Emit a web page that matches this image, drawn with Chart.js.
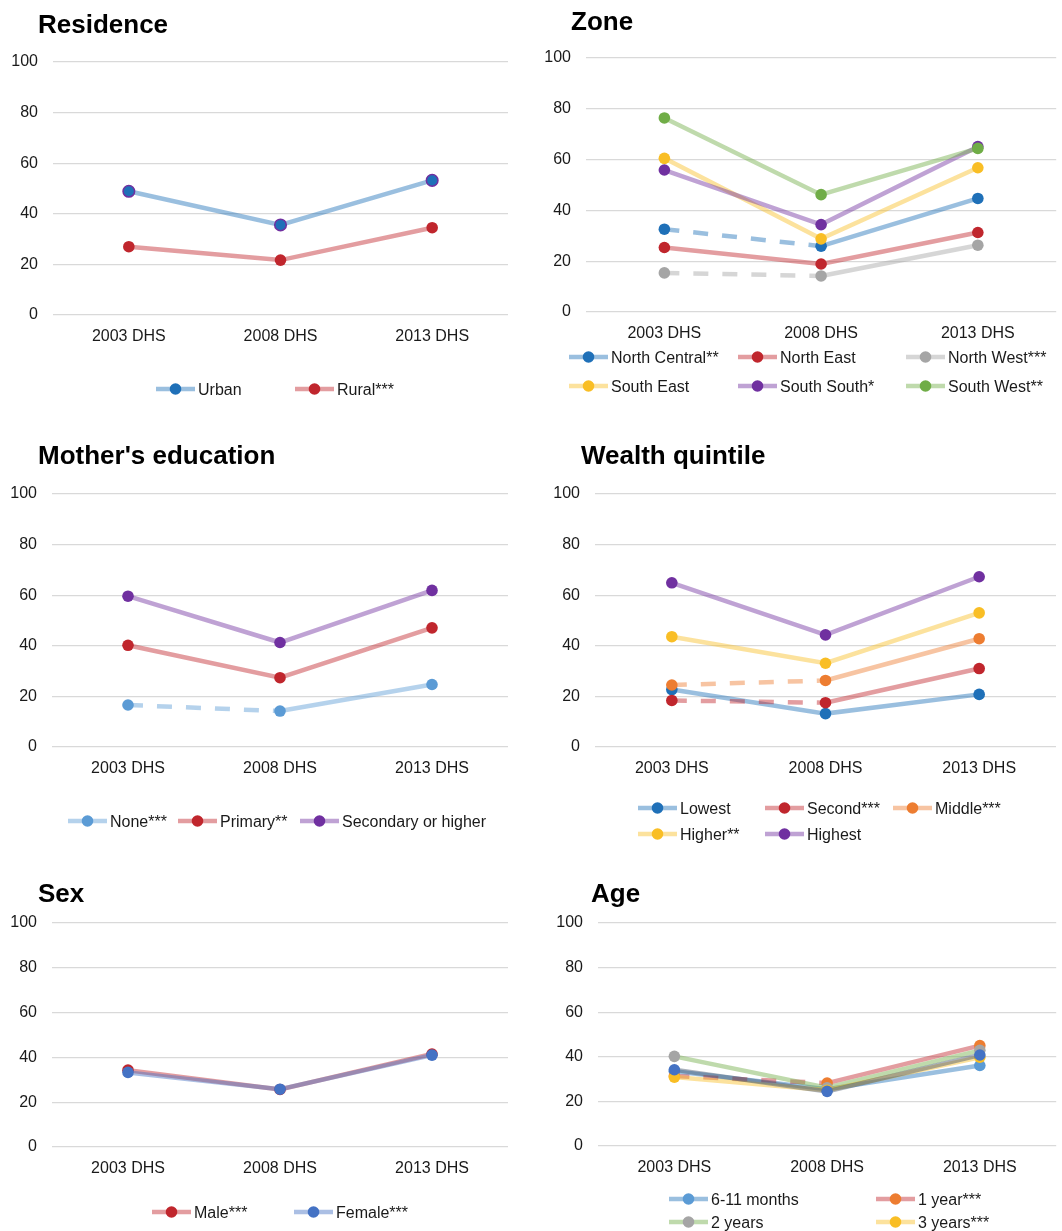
<!DOCTYPE html>
<html>
<head>
<meta charset="utf-8">
<script src="https://cdn.jsdelivr.net/npm/chart.js@4.4.1/dist/chart.umd.min.js"></script>
<style>
  html, body { margin: 0; padding: 0; background: #fff; }
  body { position: relative; width: 1062px; height: 1231px; overflow: hidden; }
  canvas { position: absolute; display: block; }
</style>
</head>
<body>
<canvas id="residence" width="531" height="430" style="left:0;top:0"></canvas>
<canvas id="zone" width="531" height="430" style="left:531px;top:0"></canvas>
<canvas id="education" width="531" height="440" style="left:0;top:430px"></canvas>
<canvas id="wealth" width="531" height="440" style="left:531px;top:430px"></canvas>
<canvas id="sex" width="531" height="361" style="left:0;top:870px"></canvas>
<canvas id="age" width="531" height="361" style="left:531px;top:870px"></canvas>
<script>
// ---- Survey rounds (x axis) and y-axis range ----
const categories = ['2003 DHS', '2008 DHS', '2013 DHS'];
const yMin = 0;
const yMax = 100;
const yStep = 20;

// ---- Residence ----
const residenceLabels = ['Urban', 'Rural***'];
const residenceUrban = [48.9, 35.6, 53.2];
const residenceRural = [27.0, 21.7, 34.5];

// ---- Zone ----
const zoneLabels = ['North Central**', 'North East', 'North West***', 'South East', 'South South*', 'South West**'];
const zoneNorthCentral = [32.6, 25.9, 44.7];
const zoneNorthEast = [25.4, 18.9, 31.3];
const zoneNorthWest = [15.4, 14.2, 26.3];
const zoneSouthEast = [60.5, 28.8, 56.8];
const zoneSouthSouth = [55.9, 34.4, 65.1];
const zoneSouthWest = [76.4, 46.2, 64.4];

// ---- Mother's education ----
const educationLabels = ['None***', 'Primary**', 'Secondary or higher'];
const educationNone = [16.6, 14.2, 24.7];
const educationPrimary = [40.2, 27.4, 47.1];
const educationSecondary = [59.6, 41.3, 61.9];

// ---- Wealth quintile ----
const wealthLabels = ['Lowest', 'Second***', 'Middle***', 'Higher**', 'Highest'];
const wealthLowest = [22.7, 13.2, 20.8];
const wealthSecond = [18.4, 17.5, 31.0];
const wealthMiddle = [24.5, 26.3, 42.8];
const wealthHigher = [43.6, 33.1, 53.0];
const wealthHighest = [64.9, 44.3, 67.3];

// ---- Sex ----
const sexLabels = ['Male***', 'Female***'];
const sexMale = [34.3, 25.7, 41.5];
const sexFemale = [33.3, 25.8, 41.0];

// ---- Age ----
const ageLabels = ['6-11 months', '1 year***', '2 years', '3 years***', '4 years'];
const age6to11 = [33.5, 25.5, 36.1];
const age1 = [31.4, 28.2, 45.0];
const age2 = [40.2, 26.1, 42.9];
const age3 = [30.9, 25.0, 39.8];
const age4 = [34.2, 24.5, 40.8];

// Series whose first interval (2003 -> 2008) is drawn dashed
const dashedFirstInterval = ['North Central**', 'North West***', 'None***', 'Second***', 'Middle***', '1 year***'];

// ---- Styles ----
const FONT = '"Liberation Sans", Arial, Helvetica, sans-serif';
const TEXT = '#1a1a1a';
const GRID = '#d9d9d9';

function rgba(hex, a) {
  const n = parseInt(hex.slice(1), 16);
  return `rgba(${(n >> 16) & 255},${(n >> 8) & 255},${n & 255},${a})`;
}
const LINE_ALPHA = 0.45;
const C = {
  blue: '#1F70B8', red: '#C0262D', grey: '#A5A5A5', yellow: '#F9BE25',
  purple: '#7030A0', green: '#70AD47', lightBlue: '#5B9BD5', orange: '#ED7D31',
  royal: '#4472C4', slate: '#44546A'
};
function style(marker, line, edge) {
  return { marker: marker, line: rgba(line || marker, LINE_ALPHA), edge: edge };
}

Chart.defaults.font.family = FONT;
Chart.defaults.color = TEXT;

// Titles and line-with-marker legend entries
const panelDecor = {
  id: 'panelDecor',
  afterDraw(chart, args, opts) {
    const ctx = chart.ctx;
    ctx.save();
    ctx.textAlign = 'left';
    ctx.textBaseline = 'alphabetic';
    ctx.fillStyle = '#000';
    ctx.font = 'bold 26px ' + FONT;
    ctx.fillText(opts.title, opts.titleX, opts.titleY);

    ctx.font = '16px ' + FONT;
    const cols = opts.cols, rows = opts.rows;
    chart.data.datasets.forEach((ds, i) => {
      const col = i % cols.length;
      const row = Math.floor(i / cols.length);
      if (row >= rows.length) return;
      const x = cols[col], y = rows[row];
      ctx.strokeStyle = ds.borderColor;
      ctx.lineWidth = 4.5;
      ctx.setLineDash([]);
      ctx.beginPath();
      ctx.moveTo(x, y);
      ctx.lineTo(x + 39, y);
      ctx.stroke();
      ctx.fillStyle = ds.pointBackgroundColor;
      ctx.beginPath();
      ctx.arc(x + 19.5, y, 5.8, 0, Math.PI * 2);
      ctx.fill();
      ctx.fillStyle = TEXT;
      ctx.fillText(ds.label, x + 42, y + 5.8);
    });
    ctx.restore();
  }
};

function buildPanel(id, geom, decor, series) {
  const canvas = document.getElementById(id);
  const W = canvas.width, H = canvas.height;
  return new Chart(canvas, {
    type: 'line',
    data: {
      labels: categories,
      datasets: series.map((s, i) => {
        const dashed = dashedFirstInterval.includes(s.label);
        return {
          label: s.label,
          data: s.data,
          order: -i,               // later series drawn over earlier ones
          borderColor: s.style.line,
          borderWidth: 4.5,
          pointBackgroundColor: s.style.marker,
          pointBorderColor: s.style.edge || s.style.marker,
          pointBorderWidth: s.style.edge ? 1.5 : 0,
          pointRadius: 5.8,
          pointHoverRadius: 5.8,
          tension: 0,
          fill: false,
          segment: {
            borderDash: ctx => (dashed && ctx.p0DataIndex === 0) ? [15, 14] : undefined
          }
        };
      })
    },
    options: {
      responsive: false,
      animation: false,
      events: [],
      layout: { padding: { top: geom.top, right: W - geom.right, bottom: 0, left: 0 } },
      plugins: {
        legend: { display: false },
        tooltip: { enabled: false },
        title: { display: false },
        panelDecor: decor
      },
      scales: {
        x: {
          offset: true,
          grid: { display: false, offset: true },
          border: { display: false },
          ticks: { padding: 4, color: TEXT, font: { size: 16 }, maxRotation: 0 },
          afterFit: sc => { sc.height = H - geom.bottom; }
        },
        y: {
          min: yMin,
          max: yMax,
          ticks: { stepSize: yStep, padding: 15, color: TEXT, font: { size: 16 } },
          grid: { color: GRID, lineWidth: 1.3, drawTicks: false },
          border: { display: false },
          afterFit: sc => { sc.width = geom.left; }
        }
      }
    },
    plugins: [panelDecor]
  });
}

buildPanel('residence',
  { left: 53, right: 508, top: 62, bottom: 315 },
  { title: 'Residence', titleX: 38, titleY: 33, cols: [156, 295], rows: [389] },
  [
    { label: residenceLabels[0], data: residenceUrban, style: style(C.blue, C.blue, C.purple) },
    { label: residenceLabels[1], data: residenceRural, style: style(C.red) }
  ]);

buildPanel('zone',
  { left: 55, right: 526, top: 58, bottom: 312 },
  { title: 'Zone', titleX: 40, titleY: 30, cols: [38, 207, 375], rows: [357, 386] },
  [
    { label: zoneLabels[0], data: zoneNorthCentral, style: style(C.blue) },
    { label: zoneLabels[1], data: zoneNorthEast, style: style(C.red) },
    { label: zoneLabels[2], data: zoneNorthWest, style: style(C.grey) },
    { label: zoneLabels[3], data: zoneSouthEast, style: style(C.yellow) },
    { label: zoneLabels[4], data: zoneSouthSouth, style: style(C.purple) },
    { label: zoneLabels[5], data: zoneSouthWest, style: style(C.green) }
  ]);

buildPanel('education',
  { left: 52, right: 508, top: 64, bottom: 317 },
  { title: "Mother's education", titleX: 38, titleY: 34, cols: [68, 178, 300], rows: [391] },
  [
    { label: educationLabels[0], data: educationNone, style: style(C.lightBlue) },
    { label: educationLabels[1], data: educationPrimary, style: style(C.red) },
    { label: educationLabels[2], data: educationSecondary, style: style(C.purple) }
  ]);

buildPanel('wealth',
  { left: 64, right: 525, top: 64, bottom: 317 },
  { title: 'Wealth quintile', titleX: 50, titleY: 34, cols: [107, 234, 362], rows: [378, 404] },
  [
    { label: wealthLabels[0], data: wealthLowest, style: style(C.blue) },
    { label: wealthLabels[1], data: wealthSecond, style: style(C.red) },
    { label: wealthLabels[2], data: wealthMiddle, style: style(C.orange) },
    { label: wealthLabels[3], data: wealthHigher, style: style(C.yellow) },
    { label: wealthLabels[4], data: wealthHighest, style: style(C.purple) }
  ]);

buildPanel('sex',
  { left: 52, right: 508, top: 53, bottom: 277 },
  { title: 'Sex', titleX: 38, titleY: 32, cols: [152, 294], rows: [342] },
  [
    { label: sexLabels[0], data: sexMale, style: style(C.red) },
    { label: sexLabels[1], data: sexFemale, style: style(C.royal) }
  ]);

buildPanel('age',
  { left: 67, right: 529, top: 53, bottom: 276 },
  { title: 'Age', titleX: 60, titleY: 32, cols: [138, 345], rows: [329, 352, 375] },
  [
    { label: ageLabels[0], data: age6to11, style: style(C.lightBlue, C.blue) },
    { label: ageLabels[1], data: age1, style: style(C.orange, C.red) },
    { label: ageLabels[2], data: age2, style: style(C.grey, C.green) },
    { label: ageLabels[3], data: age3, style: style(C.yellow) },
    { label: ageLabels[4], data: age4, style: style(C.royal, C.slate) }
  ]);
</script>
</body>
</html>
